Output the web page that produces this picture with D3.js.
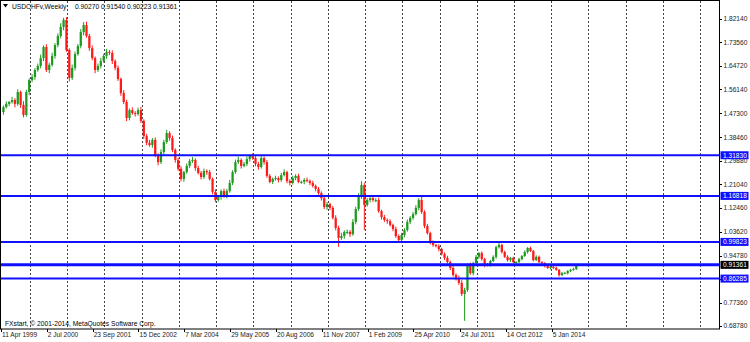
<!DOCTYPE html>
<html>
<head>
<meta charset="utf-8">
<script src="https://cdn.jsdelivr.net/npm/d3@7"></script>
<style>
  body { margin: 0; background: #fff; }
  svg { display: block; font-family: "Liberation Sans", Arial, sans-serif; }
</style>
</head>
<body>
<div id="chart"></div>
<script>
// chart data
const symbolTitle = "USDCHFv,Weekly";
const lastQuote = ["0.90270", "0.91540", "0.90223", "0.91361"];
const copyright = "FXstart, \u00a9 2001-2014, MetaQuotes Software Corp.";
const startDate = "11 Apr 1999";
const stepWeeks = 4;          // one candle per 4 weekly bars
const firstOpen = 1.478;
const closes = [
  1.496, 1.508, 1.515, 1.522, 1.508, 1.552, 1.504, 1.467, 1.552, 1.596,
  1.607, 1.633, 1.648, 1.677, 1.718, 1.633, 1.652, 1.685, 1.725, 1.759,
  1.792, 1.818, 1.707, 1.604, 1.641, 1.692, 1.722, 1.773, 1.799, 1.759,
  1.714, 1.677, 1.633, 1.648, 1.666, 1.685, 1.700, 1.696, 1.666, 1.641,
  1.600, 1.548, 1.515, 1.456, 1.485, 1.474, 1.471, 1.485, 1.445, 1.389,
  1.364, 1.356, 1.375, 1.319, 1.293, 1.330, 1.367, 1.400, 1.382, 1.338,
  1.301, 1.268, 1.231, 1.256, 1.279, 1.297, 1.301, 1.271, 1.253, 1.238,
  1.260, 1.256, 1.231, 1.183, 1.153, 1.164, 1.186, 1.168, 1.186, 1.216,
  1.256, 1.293, 1.301, 1.279, 1.286, 1.304, 1.316, 1.308, 1.286, 1.275,
  1.308, 1.293, 1.242, 1.220, 1.231, 1.234, 1.227, 1.245, 1.256, 1.223,
  1.216, 1.234, 1.242, 1.220, 1.220, 1.227, 1.223, 1.216, 1.205, 1.194,
  1.179, 1.160, 1.127, 1.138, 1.124, 1.087, 1.050, 1.013, 1.020, 1.035,
  1.035, 1.027, 1.072, 1.120, 1.168, 1.208, 1.135, 1.153, 1.160, 1.153,
  1.153, 1.112, 1.090, 1.079, 1.075, 1.061, 1.046, 1.020, 1.005, 1.024,
  1.042, 1.072, 1.087, 1.101, 1.124, 1.153, 1.109, 1.057, 1.031, 0.998,
  0.987, 0.983, 0.972, 0.954, 0.939, 0.924, 0.902, 0.876, 0.865, 0.847,
  0.806, 0.821, 0.913, 0.883, 0.920, 0.943, 0.957, 0.935, 0.913, 0.913,
  0.928, 0.943, 0.979, 0.987, 0.961, 0.943, 0.931, 0.939, 0.924, 0.924,
  0.935, 0.946, 0.961, 0.976, 0.965, 0.931, 0.943, 0.924, 0.920, 0.909,
  0.902, 0.906, 0.902, 0.895, 0.876, 0.883, 0.883, 0.891, 0.895, 0.898,
  0.91361
];
// wick lengths above / below the body, in thousandths
const upperWick = [
  6, 9, 4, 12, 7, 10, 5, 14, 8, 6,   11, 7, 9, 13, 6, 10, 8, 12, 7, 9,
  14, 8, 10, 6, 12, 9, 7, 11, 8, 13,  7, 10, 6, 9, 12, 8, 11, 7, 10, 6,
  9, 5, 11, 8, 6, 10, 7, 9, 12, 6,    8, 11, 7, 9, 6, 10, 8, 12, 7, 9,
  6, 8, 10, 5, 9, 7, 11, 6, 8, 7,     9, 6, 8, 5, 10, 7, 6, 9, 8, 11,
  7, 9, 12, 6, 8, 10, 5, 9, 7, 8,     10, 6, 8, 7, 5, 9, 6, 8, 10, 5,
  7, 9, 6, 8, 5, 7, 9, 6, 8, 5,       7, 6, 9, 8, 5, 7, 10, 8, 12, 6,
  9, 7, 11, 8, 10, 6, 9, 7, 8, 6,     7, 9, 5, 8, 6, 7, 5, 9, 6, 8,
  7, 9, 6, 8, 10, 7, 12, 6, 8, 5,     6, 4, 7, 5, 6, 8, 5, 7, 6, 9,
  10, 8, 6, 9, 5, 7, 4, 6, 5, 7,      4, 6, 5, 7, 4, 5, 6, 4, 5, 3,
  5, 4, 6, 3, 5, 4, 6, 5, 3, 4,       5, 3, 4, 5, 3, 4, 5, 3, 4, 5,
  4
];
const lowerWick = [
  10, 5, 8, 6, 13, 7, 11, 9, 6, 12,   8, 10, 6, 9, 11, 7, 12, 6, 10, 8,
  9, 12, 7, 13, 8, 10, 6, 9, 12, 7,   10, 8, 12, 7, 9, 6, 10, 8, 11, 9,
  7, 10, 8, 12, 9, 6, 10, 7, 8, 11,   9, 6, 10, 8, 12, 7, 9, 6, 10, 8,
  10, 7, 9, 11, 6, 8, 7, 10, 6, 9,    7, 10, 6, 9, 8, 6, 10, 7, 9, 6,
  8, 6, 7, 10, 5, 8, 9, 6, 8, 10,     6, 9, 7, 5, 8, 6, 9, 7, 5, 8,
  9, 6, 8, 5, 7, 9, 5, 8, 6, 9,       6, 9, 7, 10, 8, 6, 9, 7, 7, 10,
  8, 10, 6, 9, 7, 11, 8, 6, 9, 7,     8, 6, 9, 7, 10, 6, 8, 7, 9, 6,
  9, 6, 8, 7, 5, 9, 7, 8, 6, 9,       7, 5, 8, 6, 7, 5, 8, 6, 9, 7,
  8, 10, 7, 6, 8, 5, 7, 6, 8, 5,      6, 4, 7, 5, 6, 4, 5, 7, 4, 6,
  4, 5, 3, 6, 4, 5, 3, 4, 6, 5,       3, 5, 4, 3, 6, 4, 3, 5, 4, 3,
  4
];
// notable wick extremes: [candle index, price]
const wickHighs = [[21, 1.826], [28, 1.810], [125, 1.222]];
const wickLows = [[117, 0.980], [126, 1.042], [161, 0.707]];

const priceTicks = [1.82140, 1.73560, 1.64720, 1.56140, 1.47300, 1.38460, 1.29880,
  1.21040, 1.12460, 1.03620, 0.94780, 0.86200, 0.77360, 0.68780];
const dateLabels = ["11 Apr 1999", "2 Jul 2000", "23 Sep 2001", "15 Dec 2002", "7 Mar 2004",
  "29 May 2005", "20 Aug 2006", "11 Nov 2007", "1 Feb 2009", "25 Apr 2010",
  "24 Jul 2011", "14 Oct 2012", "5 Jan 2014"];
const levelLines = [1.31830, 1.16818, 0.99823, 0.86285];
const currentPrice = 0.91361;

const width = 750, height = 342;
const plotRight = 719, plotBottom = 329;
const parse = d3.utcParse("%d %b %Y");
const t0 = parse(startDate);
const week = 7 * 24 * 3600 * 1000;
const up = "#1f9a1f", down = "#ff1a1a";

// x in weekly bars, 64 bars between date labels
const x = d3.scaleLinear().domain([0, 64]).range([2, 47.83]);
const y = d3.scaleLinear().domain([0.6878, 1.8214]).range([326, 19]);
const fmt = d3.format(".5f");

const svg = d3.select("#chart").append("svg")
  .attr("width", width).attr("height", height);

// vertical dotted grid, one line per 52 bars
const gridBars = d3.range(39, 1010, 52).filter(b => x(b) < plotRight - 2);
svg.append("g").selectAll("line").data(gridBars).enter().append("line")
  .attr("x1", d => Math.round(x(d)) + 0.5).attr("x2", d => Math.round(x(d)) + 0.5)
  .attr("y1", 1).attr("y2", plotBottom)
  .attr("stroke", "#444").attr("stroke-dasharray", "2,2");

// candles
const candles = closes.map((c, i) => {
  const o = i === 0 ? firstOpen : closes[i - 1];
  let hi = Math.max(o, c) + upperWick[i] / 1000;
  let lo = Math.min(o, c) - lowerWick[i] / 1000;
  wickHighs.forEach(w => { if (w[0] === i) hi = w[1]; });
  wickLows.forEach(w => { if (w[0] === i) lo = w[1]; });
  return {bar: i * stepWeeks, o: o, c: c, hi: hi, lo: lo};
});
const bw = x(stepWeeks) - x(0);
const cg = svg.append("g");
cg.selectAll("line").data(candles).enter().append("line")
  .attr("x1", d => x(d.bar) + bw / 2).attr("x2", d => x(d.bar) + bw / 2)
  .attr("y1", d => y(d.hi)).attr("y2", d => y(d.lo))
  .attr("stroke", d => d.c >= d.o ? up : down).attr("stroke-width", 1);
cg.selectAll("rect").data(candles).enter().append("rect")
  .attr("x", d => x(d.bar) + 0.3)
  .attr("width", bw - 0.6)
  .attr("y", d => y(Math.max(d.o, d.c)))
  .attr("height", d => Math.max(1, Math.abs(y(d.o) - y(d.c))))
  .attr("fill", d => d.c >= d.o ? up : down);

// horizontal levels
svg.append("g").selectAll("line").data(levelLines).enter().append("line")
  .attr("x1", 0).attr("x2", plotRight)
  .attr("y1", d => y(d)).attr("y2", d => y(d))
  .attr("stroke", "#1010ff").attr("stroke-width", 2);
svg.append("line")
  .attr("x1", 0).attr("x2", plotRight)
  .attr("y1", y(currentPrice)).attr("y2", y(currentPrice))
  .attr("stroke", "#1010ff").attr("stroke-width", 3);

// frame
svg.append("rect")
  .attr("x", 0.5).attr("y", 0.5)
  .attr("width", plotRight).attr("height", plotBottom - 0.5)
  .attr("fill", "none").attr("stroke", "#000");

// price axis
const ya = svg.append("g");
ya.selectAll("line").data(priceTicks).enter().append("line")
  .attr("x1", plotRight).attr("x2", plotRight + 3)
  .attr("y1", d => Math.round(y(d)) + 0.5).attr("y2", d => Math.round(y(d)) + 0.5)
  .attr("stroke", "#000");
ya.selectAll("text").data(priceTicks).enter().append("text")
  .attr("x", plotRight + 4.5).attr("y", d => y(d) + 2.3)
  .attr("font-size", 6.6).attr("fill", "#222")
  .text(d => fmt(d));

// price tags
const tags = levelLines.map(v => ({v: v, bg: "#1010ff"}))
  .concat([{v: currentPrice, bg: "#000"}]);
const tg = svg.append("g").selectAll("g").data(tags).enter().append("g");
tg.append("rect")
  .attr("x", plotRight + 1.5).attr("y", d => y(d.v) - 4)
  .attr("width", 28).attr("height", 8).attr("fill", d => d.bg);
tg.append("text")
  .attr("x", plotRight + 4).attr("y", d => y(d.v) + 2.4)
  .attr("font-size", 6.6).attr("fill", "#fff")
  .text(d => fmt(d.v));

// date axis
const dateBars = dateLabels.map(s => (parse(s) - t0) / week);
const xa = svg.append("g");
xa.selectAll("line").data(dateBars).enter().append("line")
  .attr("x1", d => Math.round(x(d)) - 0.5).attr("x2", d => Math.round(x(d)) - 0.5)
  .attr("y1", plotBottom).attr("y2", plotBottom + 3)
  .attr("stroke", "#000");
xa.selectAll("text").data(dateLabels).enter().append("text")
  .attr("x", (d, i) => x(dateBars[i])).attr("y", 337)
  .attr("font-size", 6.6).attr("fill", "#222")
  .text(d => d);

// title
svg.append("path").attr("d", "M3,4 L8,4 L5.5,7.5 Z").attr("fill", "#000");
svg.append("text").attr("x", 12).attr("y", 8.6)
  .attr("font-size", 6.7).attr("fill", "#000")
  .text(symbolTitle);
svg.append("text").attr("x", 75).attr("y", 8.6)
  .attr("font-size", 6.7).attr("fill", "#000")
  .text(lastQuote.join(" "));

svg.append("text").attr("x", 5).attr("y", 325.5)
  .attr("font-size", 6.7).attr("fill", "#000")
  .text(copyright);
</script>
</body>
</html>
